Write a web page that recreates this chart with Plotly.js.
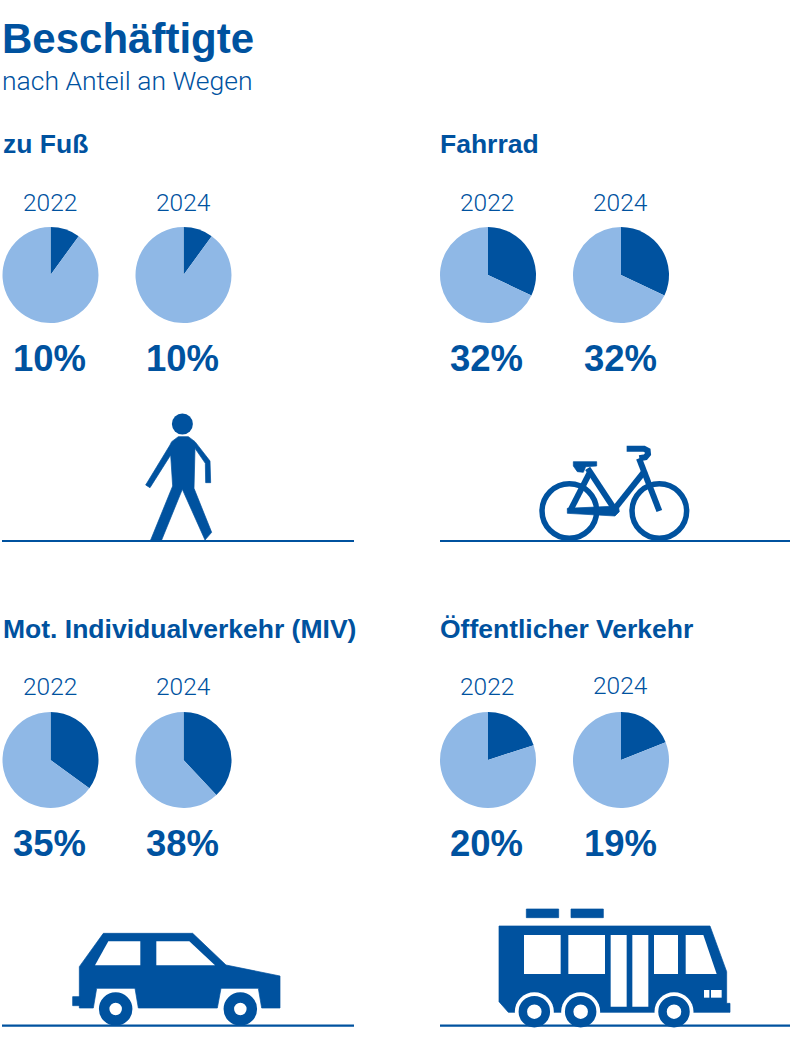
<!DOCTYPE html>
<html lang="de">
<head>
<meta charset="utf-8">
<title>Beschäftigte nach Anteil an Wegen</title>
<script src="https://cdn.plot.ly/plotly-3.0.1.min.js"></script>
<style>
  html, body { margin: 0; padding: 0; background: #fff; }
  #chart { width: 790px; height: 1043px; }
</style>
</head>
<body>
<div id="chart"></div>
<script>
const W = 790, H = 1043;
const BLUE = '#00529f', LIGHT = '#8fb8e6';
const FONT = 'Liberation Sans, Arial, sans-serif';
const FONT_LIGHT = 'Roboto, Liberation Sans, sans-serif';

const years = ['2022', '2024'];
const panelNames = ['zu Fuß', 'Fahrrad', 'Mot. Individualverkehr (MIV)', 'Öffentlicher Verkehr'];
const shareFuss = [10, 10];
const shareRad = [32, 32];
const shareMiv = [35, 38];
const shareOev = [20, 19];
const shares = [shareFuss, shareRad, shareMiv, shareOev];

// panel offsets, pie centres are relative to them
const panelX = [0, 437.5, 0, 437.5];
const panelY = [0, 0, 485, 485];
const PIE_X = [50.5, 183.5], PIE_Y = 275, PIE_R = 48;
const yearNudge = [[0, 0], [0, 0], [-0.5, -0.5], [-0.5, -2]];

const px = x => x / W;
const py = y => 1 - y / H;

// icon outlines are noted in 3x crop coordinates
function crop(ox, oy, pts, close = true) {
  const p = pts.map(([x, y], i) => `${i ? 'L' : 'M'}${px(ox + x / 3)},${py(oy + y / 3)}`).join(' ');
  return close ? p + ' Z' : p;
}
const poly = (ox, oy, pts, color = BLUE) => ({
  type: 'path', xref: 'paper', yref: 'paper', path: crop(ox, oy, pts),
  fillcolor: color, line: { width: color === BLUE ? 0.7 : 0, color: BLUE },
});
const stroke = (ox, oy, pts, width) => ({
  type: 'path', xref: 'paper', yref: 'paper', path: crop(ox, oy, pts, false),
  fillcolor: 'rgba(0,0,0,0)', line: { color: BLUE, width },
});
const rect = (ox, oy, x0, y0, x1, y1, color = BLUE) =>
  poly(ox, oy, [[x0, y0], [x1, y0], [x1, y1], [x0, y1]], color);
const circle = (cx, cy, r, fill, lineWidth = 0) => ({
  type: 'circle', xref: 'paper', yref: 'paper',
  x0: px(cx - r), x1: px(cx + r), y0: py(cy + r), y1: py(cy - r),
  fillcolor: fill, line: { color: BLUE, width: lineWidth },
});
const ground = (x0, x1, y) => ({
  type: 'line', xref: 'paper', yref: 'paper',
  x0: px(x0), x1: px(x1), y0: py(y), y1: py(y), line: { color: BLUE, width: 2.2 },
});

function personShapes() {
  const o = [120, 400];
  return [
    circle(182.4, 424, 10.5, BLUE),
    poly(o[0], o[1], [[175, 110], [205, 110], [225, 125], [270, 183], [272, 248], [257, 248], [256, 190],
      [225, 145], [222, 265], [275, 397], [255, 420], [187, 268], [125, 420], [92, 420], [158, 258],
      [152, 165], [90, 263], [77, 255], [150, 135], [155, 125]]),
  ];
}

function bikeShapes() {
  const o = [520, 430];
  return [
    circle(o[0] + 148 / 3, o[1] + 243 / 3, 27.3, 'rgba(0,0,0,0)', 5.5),
    circle(o[0] + 418 / 3, o[1] + 243 / 3, 27.3, 'rgba(0,0,0,0)', 5.5),
    poly(o[0], o[1], [[160, 95], [230, 95], [230, 108], [197, 110], [190, 127], [172, 125], [160, 108]]),
    stroke(o[0], o[1], [[203, 115], [285, 240]], 6),
    stroke(o[0], o[1], [[208, 130], [150, 243]], 6),
    stroke(o[0], o[1], [[285, 235], [375, 122]], 6),
    stroke(o[0], o[1], [[357, 85], [418, 243]], 6),
    poly(o[0], o[1], [[142, 235], [295, 228], [298, 245], [285, 258], [142, 250]]),
    stroke(o[0], o[1], [[320, 56], [372, 56], [383, 62], [384, 72], [376, 82], [358, 85]], 6),
  ];
}

function carShapes() {
  const o = [60, 920];
  const wheel = cx => circle(o[0] + cx / 3, o[1] + 267 / 3, 11.5, '#fff', 10.5);
  return [
    poly(o[0], o[1], [[130, 40], [398, 40], [498, 135], [660, 168], [660, 264], [605, 264], [595, 205],
      [483, 205], [472, 264], [235, 264], [225, 205], [110, 205], [100, 264], [58, 264], [58, 140]]),
    rect(o[0], o[1], 38, 230, 60, 257),
    poly(o[0], o[1], [[145, 64], [241, 64], [241, 136], [105, 136]], '#fff'),
    poly(o[0], o[1], [[289, 64], [388, 64], [465, 136], [289, 136]], '#fff'),
    wheel(167), wheel(541),
  ];
}

function busShapes() {
  const o = [490, 900];
  const arch = cx => circle(o[0] + cx / 3, o[1] + 335 / 3, 19.5, '#fff');
  const wheel = cx => circle(o[0] + cx / 3, o[1] + 335 / 3, 11.5, '#fff', 8.5);
  return [
    rect(o[0], o[1], 109, 27, 206, 53),
    rect(o[0], o[1], 243, 27, 340, 53),
    poly(o[0], o[1], [[27, 78], [660, 78], [710, 215], [710, 310], [720, 310], [720, 337], [55, 337], [27, 305]]),
    arch(133), arch(272), arch(552),
    wheel(133), wheel(272), wheel(552),
    rect(o[0], o[1], 102, 105, 212, 222, '#fff'),
    rect(o[0], o[1], 235, 105, 345, 222, '#fff'),
    rect(o[0], o[1], 362, 105, 410, 320, '#fff'),
    rect(o[0], o[1], 427, 105, 475, 320, '#fff'),
    rect(o[0], o[1], 492, 105, 564, 222, '#fff'),
    poly(o[0], o[1], [[587, 105], [640, 105], [680, 222], [587, 222]], '#fff'),
    rect(o[0], o[1], 642, 270, 658, 293, '#fff'),
    rect(o[0], o[1], 663, 270, 695, 293, '#fff'),
  ];
}

const label = (text, x, y, size, bold, anchor = 'center') => ({
  text: bold ? `<b>${text}</b>` : text,
  xref: 'paper', yref: 'paper', x: px(x), y: py(y),
  xanchor: anchor, yanchor: 'middle', showarrow: false, borderpad: 0, borderwidth: 0,
  font: bold
    ? { family: FONT, size, color: BLUE }
    : { family: FONT_LIGHT, weight: 300, size, color: BLUE },
});

const traces = [];
const annotations = [
  label('Beschäftigte', 2, 38.5, 42, true, 'left'),
  label('nach Anteil an Wegen', 2, 80, 26.5, false, 'left'),
];

shares.forEach((row, p) => {
  annotations.push(label(panelNames[p], panelX[p] + 2.5, panelY[p] + 144, 26.5, true, 'left'));
  row.forEach((share, i) => {
    const cx = panelX[p] + PIE_X[i], cy = panelY[p] + PIE_Y;
    traces.push({
      type: 'pie',
      values: [share, 100 - share],
      labels: ['Anteil', 'Rest'],
      sort: false,
      direction: 'clockwise',
      rotation: 0,
      textinfo: 'none',
      showlegend: false,
      hoverinfo: 'label+percent',
      marker: { colors: [BLUE, LIGHT], line: { width: 0 } },
      domain: { x: [px(cx - PIE_R), px(cx + PIE_R)], y: [py(cy + PIE_R), py(cy - PIE_R)] },
    });
    annotations.push(label(years[i], cx - 0.5, cy - 73 + yearNudge[p][i], 24.5, false));
    annotations.push(label(`${share}%`, cx - 1, cy + 83.5, 36.5, true));
  });
});

const shapes = [
  ...personShapes(), ...bikeShapes(), ...carShapes(), ...busShapes(),
  ground(2, 354, 541), ground(440, 790, 541),
  ground(2, 354, 1025.7), ground(440, 790, 1025.7),
];

const layout = {
  width: W,
  height: H,
  margin: { t: 0, r: 0, b: 0, l: 0 },
  paper_bgcolor: '#fff',
  showlegend: false,
  annotations,
  shapes,
};

Plotly.newPlot('chart', traces, layout, { displayModeBar: false });
</script>
</body>
</html>
